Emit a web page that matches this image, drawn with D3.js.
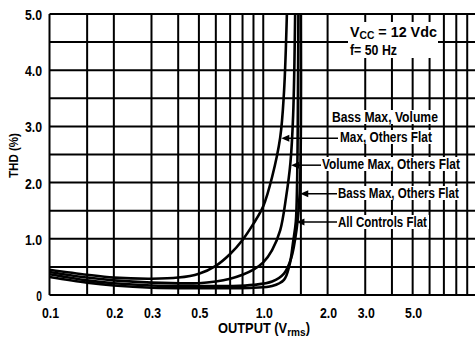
<!DOCTYPE html>
<html>
<head>
<meta charset="utf-8">
<script src="https://cdn.jsdelivr.net/npm/d3@7"></script>
<style>
  body { margin: 0; background: #fff; }
  svg { display: block; }
  text { font-family: "Liberation Sans", Arial, sans-serif; font-weight: bold; fill: #000; }
</style>
</head>
<body>
<div id="chart"></div>
<script>
// grid positions (log x, linear y)
const xGrid = [0.1, 0.15, 0.2, 0.3, 0.4, 0.5, 0.6, 0.7, 0.8, 0.9, 1, 1.5, 2, 3, 4, 5, 6, 7, 8, 9, 10];
const yGrid = [0, 0.5, 1, 1.5, 2, 2.5, 3, 3.5, 4, 4.5, 5];
const xTicks = [0.1, 0.2, 0.3, 0.5, 1, 2, 3, 5];
const xTickLabels = ['0.1', '0.2', '0.3', '0.5', '1.0', '2.0', '3.0', '5.0'];
const yTicks = [0, 1, 2, 3, 4, 5];
const yTickLabels = ['0', '1.0', '2.0', '3.0', '4.0', '5.0'];

// series: [output Vrms, THD %]
const bassVolumeMax = [[0.1, 0.45], [0.15, 0.36], [0.2, 0.31], [0.3, 0.29], [0.4, 0.31], [0.5, 0.38], [0.6, 0.52], [0.7, 0.73], [0.8, 0.98], [0.9, 1.27], [1.0, 1.58], [1.1, 2.1], [1.2, 2.8], [1.25, 3.6], [1.29, 5.0]];
const volumeMax = [[0.1, 0.41], [0.15, 0.31], [0.2, 0.26], [0.3, 0.22], [0.5, 0.21], [0.6, 0.24], [0.7, 0.29], [0.8, 0.36], [0.9, 0.45], [1.0, 0.58], [1.1, 0.8], [1.2, 1.15], [1.28, 1.75], [1.34, 2.35], [1.38, 3.2], [1.41, 5.0]];
const bassMax = [[0.1, 0.37], [0.15, 0.26], [0.2, 0.21], [0.3, 0.17], [0.5, 0.16], [0.7, 0.16], [0.9, 0.18], [1.1, 0.24], [1.25, 0.38], [1.35, 0.65], [1.43, 1.15], [1.48, 1.8], [1.5, 3.0], [1.5, 5.0]];
const allFlat = [[0.1, 0.32], [0.15, 0.22], [0.2, 0.17], [0.3, 0.13], [0.5, 0.12], [0.7, 0.12], [0.9, 0.13], [1.1, 0.16], [1.25, 0.27], [1.33, 0.55], [1.38, 0.95], [1.42, 1.3], [1.44, 2.0], [1.45, 3.0], [1.46, 5.0]];

const W = 475, H = 341;
const x = d3.scaleLog().domain([0.1, 10]).range([49.5, 477]);
const y = d3.scaleLinear().domain([0, 5]).range([295, 14]);

const svg = d3.select('#chart').append('svg').attr('width', W).attr('height', H);

// grid
svg.append('g').selectAll('line').data(xGrid).enter().append('line')
  .attr('x1', d => x(d)).attr('x2', d => x(d))
  .attr('y1', y(0)).attr('y2', y(5))
  .attr('stroke', '#000').attr('stroke-width', 2);
svg.append('g').selectAll('line').data(yGrid).enter().append('line')
  .attr('x1', x(0.1)).attr('x2', W)
  .attr('y1', d => y(d)).attr('y2', d => y(d))
  .attr('stroke', '#000').attr('stroke-width', 2);

// curves
const line = d3.line().x(d => x(d[0])).y(d => y(d[1])).curve(d3.curveCatmullRom.alpha(0.5));
[bassVolumeMax, volumeMax, bassMax, allFlat].forEach(s => {
  svg.append('path').attr('d', line(s))
    .attr('fill', 'none').attr('stroke', '#000').attr('stroke-width', 2.6);
});

// narrow text: draw, measure, squeeze horizontally to the wanted width
function narrow(parent, x0, y0, width, size, fill) {
  const g = parent.append('g');
  const t = g.append('text').attr('font-size', size);
  fill(t);
  const sx = width / t.node().getComputedTextLength();
  g.attr('transform', `translate(${x0},${y0}) scale(${sx},1)`);
  return g;
}
function plain(s) { return t => t.text(s); }
function label(s, x0, yc, width) {
  svg.append('rect')
    .attr('x', x0 - 2).attr('y', yc - 7).attr('width', width + 4).attr('height', 14)
    .attr('fill', '#fff');
  narrow(svg, x0, yc + 5, width, 14, plain(s));
}

// VCC box
svg.append('rect').attr('x', 348).attr('y', 22).attr('width', 90).attr('height', 36).attr('fill', '#fff');
narrow(svg, 350, 37, 87, 14, t => {
  t.append('tspan').text('V');
  t.append('tspan').attr('font-size', 10).attr('dy', 1.5).text('CC');
  t.append('tspan').attr('dy', -1.5).text(' = 12 Vdc');
});
narrow(svg, 350, 55, 47, 14, plain('f= 50 Hz'));

const notes = [
  { lines: ['Bass Max, Volume', 'Max, Others Flat'], xs: [332, 340], ys: [117, 137], ws: [106, 92], tip: [1.215, 2.79], from: 338 },
  { lines: ['Volume Max, Others Flat'], xs: [322], ys: [164], ws: [138], tip: [1.35, 2.31], from: 321 },
  { lines: ['Bass Max, Others Flat'], xs: [338], ys: [193], ws: [121], tip: [1.49, 1.80], from: 337 },
  { lines: ['All Controls Flat'], xs: [338], ys: [222], ws: [89], tip: [1.43, 1.30], from: 337 }
];
notes.forEach(n => {
  n.lines.forEach((l, i) => label(l, n.xs[i], n.ys[i], n.ws[i]));
  const tx = x(n.tip[0]), ty = y(n.tip[1]);
  svg.append('line').attr('x1', tx + 4).attr('x2', n.from).attr('y1', ty).attr('y2', ty)
    .attr('stroke', '#000').attr('stroke-width', 1.5);
  svg.append('path')
    .attr('d', `M${tx},${ty}L${tx + 8},${ty - 3.5}L${tx + 8},${ty + 3.5}Z`)
    .attr('fill', '#000');
});

// tick labels
xTicks.forEach((d, i) => {
  const w = xTickLabels[i].length * 5.7;
  narrow(svg, x(d) + 1 - w / 2, 318, w, 14, plain(xTickLabels[i]));
});
yTicks.forEach((d, i) => {
  const w = yTickLabels[i].length * 5.7;
  narrow(svg, 42 - w, y(d) + 6, w, 14, plain(yTickLabels[i]));
});

// axis titles
narrow(svg, 218, 333, 92, 14, t => {
  t.append('tspan').text('OUTPUT (V');
  t.append('tspan').attr('font-size', 11).attr('dy', 3).text('rms');
  t.append('tspan').attr('dy', -3).text(')');
});
const yt = svg.append('g').attr('transform', 'translate(18,178) rotate(-90)');
narrow(yt, 0, 0, 45, 13, plain('THD (%)'));
</script>
</body>
</html>
